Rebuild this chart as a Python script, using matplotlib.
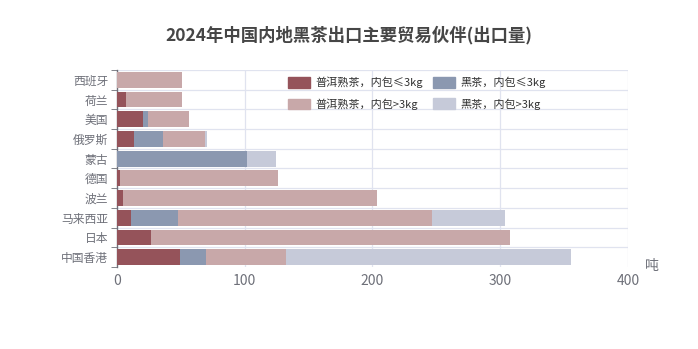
import matplotlib.pyplot as plt
import matplotlib.patches as mpatches
import numpy as np

plt.rcParams['font.family'] = ['Noto Sans CJK SC', 'DejaVu Sans']

countries = ['中国香港', '日本', '马来西亚', '波兰', '德国', '蒙古', '俄罗斯', '美国', '荷兰', '西班牙']
series_names = ['普洱熟茶，内包≤3kg', '黑茶，内包≤3kg', '普洱熟茶，内包>3kg', '黑茶，内包>3kg']
puer_small = [49.6, 27.1, 11.2, 5.0, 2.6, 0, 13.8, 20.9, 7.3, 0]
black_small = [20.6, 0, 37.1, 0, 0, 101.6, 22.5, 3.6, 0, 0]
puer_large = [62.5, 280.6, 198.6, 198.8, 123.3, 0, 33.1, 31.9, 44.1, 51.0]
black_large = [222.6, 0, 56.9, 0, 0, 23.0, 1.1, 0, 0, 0]
colors = ['#95535a', '#8b98b0', '#c8a8a9', '#c6cad9']

fig = plt.figure(figsize=(6.98, 3.49), dpi=100)
ax = fig.add_axes([116.7 / 698, 1 - 267 / 349, (628.3 - 116.7) / 698, 197 / 349])

y = np.arange(len(countries))
left = np.zeros(len(countries))
for vals, c in zip([puer_small, black_small, puer_large, black_large], colors):
    ax.barh(y, vals, left=left, height=0.8, color=c, zorder=3)
    left += np.array(vals)

ax.set_xlim(0, 400)
ax.set_ylim(-0.5, len(countries) - 0.5)
ax.set_xticks([0, 100, 200, 300, 400])
ax.set_yticks(y)
ax.set_yticklabels(countries)
ax.set_yticks(np.arange(-0.5, len(countries)), minor=True)

grid_c = '#e0e3ef'
for v in [100, 200, 300, 400]:
    ax.axvline(v, color=grid_c, lw=0.9, zorder=1)
for b in np.arange(0.5, len(countries) - 0.5):
    ax.axhline(b, color=grid_c, lw=0.9, zorder=1)
ax.axhline(len(countries) - 0.5, color=grid_c, lw=0.9, zorder=1)

for s in ['top', 'right', 'bottom']:
    ax.spines[s].set_visible(False)
ax.spines['left'].set_color('#6e7079')
ax.spines['left'].set_linewidth(1.0)
ax.tick_params(axis='y', which='major', length=0, labelsize=8.5, labelcolor='#6e7079', pad=6)
ax.tick_params(axis='y', which='minor', length=4, color='#6e7079', direction='out')
ax.tick_params(axis='x', length=0, labelsize=10, labelcolor='#6e7079', pad=5)

fig.text(652 / 698, 1 - 266 / 349, '吨', fontsize=10, color='#6e7079', ha='center', va='center')

fig.text(349 / 698, 1 - 35 / 349, '2024年中国内地黑茶出口主要贸易伙伴(出口量)', fontsize=12.5,
         fontweight='bold', color='#464646', ha='center', va='center')

# legend fills column-wise, so reorder to get the row layout of the original
handles = [mpatches.Patch(color=c, label=n) for c, n in zip(colors, series_names)]
handles = [handles[0], handles[2], handles[1], handles[3]]
leg = ax.legend(handles=handles, ncol=2, loc='upper left', bbox_to_anchor=((281 - 116.7) / 511.6, 1.0),
                frameon=False, fontsize=8, handlelength=2.0, handleheight=1.1,
                columnspacing=0.9, labelspacing=0.9, handletextpad=0.5, borderaxespad=0.2)
for t in leg.get_texts():
    t.set_color('#333333')

fig.savefig('out.png', dpi=100)
